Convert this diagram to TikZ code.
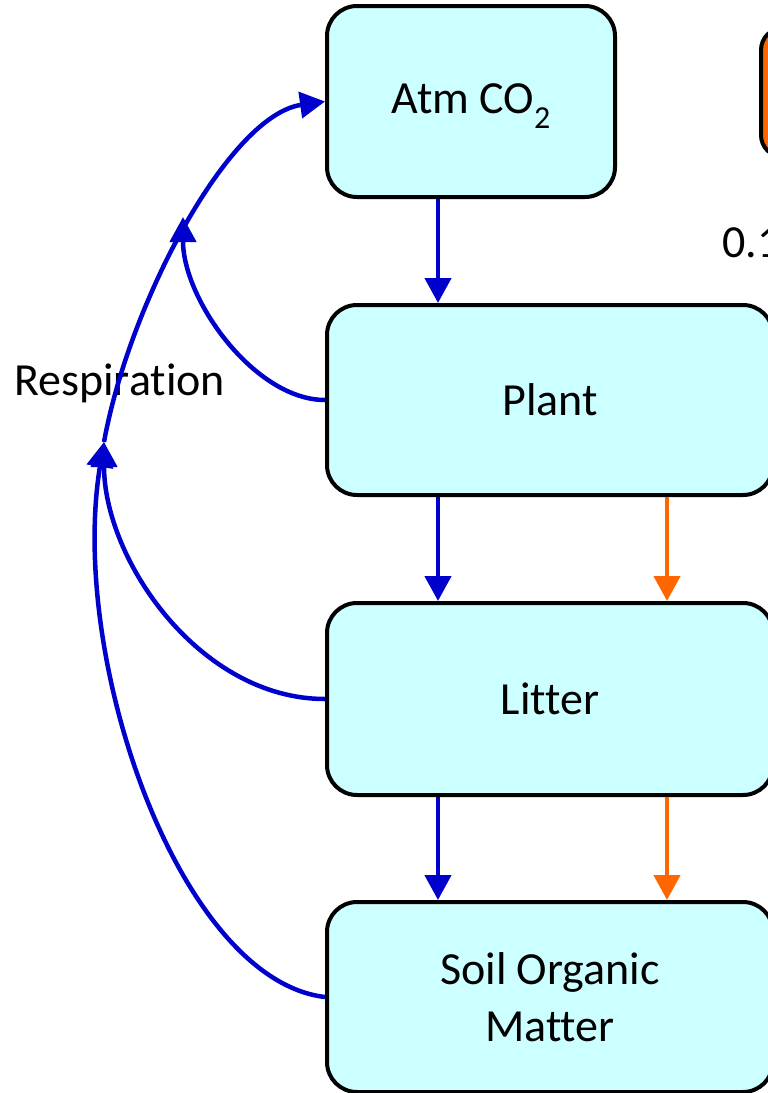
\documentclass[tikz,border=0pt]{standalone}
\usepackage{fontspec}
\setmainfont{Carlito}[Ligatures=NoCommon]
\usetikzlibrary{arrows.meta}
\definecolor{boxfill}{HTML}{CCFFFF}
\definecolor{flowblue}{HTML}{0000CC}
\definecolor{floworange}{HTML}{FF6600}
\begin{document}
\begin{tikzpicture}[x=1pt,y=-1pt,
  pool/.style={draw=black, line width=4pt, fill=boxfill, rounded corners=30pt, inner sep=0pt, align=center, font=\fontsize{46}{57}\selectfont},
  lbl/.style={inner sep=0pt, font=\fontsize{46}{57}\selectfont},
  bflow/.style={draw=flowblue, line width=4.5pt, -{Triangle[width=26pt,length=25pt]}},
  oflow/.style={draw=floworange, line width=4.5pt, -{Triangle[width=26pt,length=25pt]}},
]
\useasboundingbox (0,0) rectangle (768,1093);
\clip (0,0) rectangle (768,1093);

% pools
\node[pool, minimum width=288pt, minimum height=191pt] (atm) at (471,101.5) {Atm CO\raisebox{-15pt}[0pt][6pt]{\fontsize{32}{32}\selectfont 2}};
\node[pool, minimum width=446pt, minimum height=190pt] (plant) at (550,400) {Plant};
\node[pool, minimum width=446pt, minimum height=192pt] (litter) at (550,699) {Litter};
\node[pool, minimum width=446pt, minimum height=190pt] (som) at (550,997) {Soil Organic\\Matter};
\node[draw=black, line width=4pt, fill=floworange, rounded corners=22pt, minimum width=160pt, minimum height=129pt, inner sep=0pt] (obox) at (841,92.5) {};

% labels
\node[lbl, anchor=base west] (rate) at (722,257) {0.1};
\node[lbl, anchor=base west] (resp) at (14,395) {Respiration};

% helper coordinates
\coordinate (xb) at (438,0);
\coordinate (xo) at (667,0);
\coordinate (j1) at (104,442);
\coordinate (j2) at (183,217);

% vertical flows
\draw[bflow] (atm.south -| xb) -- (plant.north -| xb);
\draw[bflow] (plant.south -| xb) -- (litter.north -| xb);
\draw[oflow] (plant.south -| xo) -- (litter.north -| xo);
\draw[bflow] (litter.south -| xb) -- (som.north -| xb);
\draw[oflow] (litter.south -| xo) -- (som.north -| xo);

% respiration flows
\draw[bflow] (plant.west) .. controls (255,400) and (183,300) .. (j2);
\draw[bflow] (litter.west) .. controls (200,699) and (104,560) .. (j1);
\draw[bflow] (som.west) .. controls (180,980) and (68,660) .. (j1);
\draw[bflow] (j1) .. controls (130,300) and (230,115) .. (atm.west);
\end{tikzpicture}
\end{document}
